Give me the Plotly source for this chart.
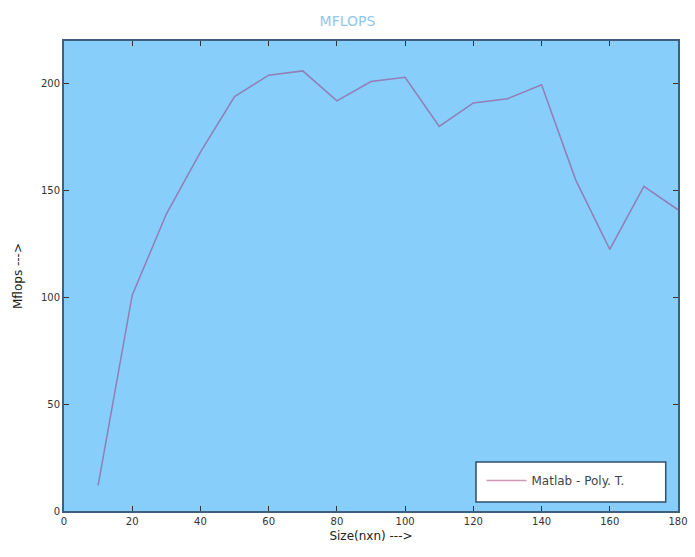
import plotly.graph_objects as go

sizes = [10, 20, 30, 40, 50, 60, 70, 80, 90, 100, 110, 120, 130, 140, 150, 160, 170, 180]
mflops = [12, 101, 139, 168, 194, 204, 206, 192, 201, 203, 180, 191, 193, 199.5, 155, 122.5, 152, 141]
series_name = "Matlab - Poly. T."
x_ticks = [0, 20, 40, 60, 80, 100, 120, 140, 160, 180]
y_ticks = [0, 50, 100, 150, 200]

fig = go.Figure()
fig.add_trace(go.Scatter(
    x=sizes, y=mflops, mode="lines", name=series_name,
    line=dict(color="rgba(160,45,115,0.5)", width=1.5),
    showlegend=True,
))

axis_common = dict(
    showline=True, mirror="ticks", linecolor="#3f5f7f", linewidth=2,
    ticks="inside", ticklen=5, tickwidth=1, tickcolor="#333333",
    showgrid=False, zeroline=False, automargin=False,
    tickfont=dict(family="DejaVu Sans", size=10, color="#333333"),
)

fig.update_layout(
    width=695, height=557,
    margin=dict(l=64, r=17, t=41, b=46),
    paper_bgcolor="white",
    plot_bgcolor="#87CEFA",
    title=dict(text="MFLOPS", x=0.5, xanchor="center", y=0.963, yanchor="middle",
               font=dict(family="DejaVu Sans", size=14, color="#8fc8ea")),
    xaxis=dict(range=[0, 180], tickvals=x_ticks,
               title=dict(text="Size(nxn) --->", standoff=6,
                          font=dict(family="DejaVu Sans", size=12, color="#222222")),
               **axis_common),
    yaxis=dict(range=[0, 220], tickvals=y_ticks,
               title=dict(text="Mflops --->", standoff=16,
                          font=dict(family="DejaVu Sans", size=12, color="#222222")),
               **axis_common),
    legend=dict(x=0.68, xanchor="left", y=0.096, yanchor="top",
                bgcolor="rgba(0,0,0,0)", borderwidth=0,
                font=dict(family="DejaVu Sans", size=12, color="#444444"),
                itemwidth=40, tracegroupgap=0),
    shapes=[dict(type="rect", xref="paper", yref="paper",
                 x0=0.671, x1=0.980, y0=0.019, y1=0.104,
                 fillcolor="white", line=dict(color="#2f4f6f", width=1.5),
                 layer="above")],
)

fig.write_html("out.html")
